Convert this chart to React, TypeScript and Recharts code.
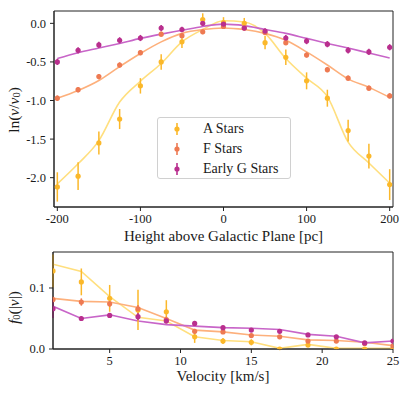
import React from "react";
import {
  ComposedChart,
  Line,
  Scatter,
  ErrorBar,
  XAxis,
  YAxis,
  ReferenceArea,
  Legend,
} from "recharts";

// ---------- Top panel data ----------
const heights = [-200, -175, -150, -125, -100, -75, -50, -25, 0, 25, 50, 75, 100, 125, 150, 175, 200];
const aVals = [-2.12, -1.98, -1.55, -1.24, -0.81, -0.5, -0.24, 0.05, 0.01, 0.0, -0.25, -0.44, -0.745, -0.97, -1.39, -1.72, -2.09];
const aErr = [0.19, 0.18, 0.15, 0.13, 0.1, 0.1, 0.08, 0.08, 0.07, 0.07, 0.087, 0.1, 0.11, 0.11, 0.14, 0.16, 0.2];
const aCurve = [-2.08, -1.82, -1.52, -1.02, -0.75, -0.52, -0.24, -0.08, 0.034, 0.017, -0.13, -0.455, -0.71, -0.95, -1.54, -1.81, -2.07];
const fVals = [-0.97, -0.86, -0.69, -0.54, -0.38, -0.14, -0.16, -0.11, -0.04, -0.06, -0.12, -0.25, -0.41, -0.6, -0.71, -0.84, -0.94];
const fErr = [0.035, 0.035, 0.035, 0.035, 0.035, 0.035, 0.03, 0.03, 0.03, 0.03, 0.03, 0.035, 0.035, 0.035, 0.035, 0.035, 0.035];
const fCurve = [-0.97, -0.87, -0.74, -0.56, -0.39, -0.24, -0.13, -0.08, -0.06, -0.08, -0.13, -0.22, -0.37, -0.54, -0.72, -0.83, -0.96];
const gVals = [-0.5, -0.35, -0.28, -0.22, -0.19, -0.06, -0.08, 0.0, -0.01, -0.06, -0.1, -0.19, -0.23, -0.27, -0.35, -0.37, -0.31];
const gErr = [0.04, 0.04, 0.04, 0.04, 0.04, 0.04, 0.035, 0.035, 0.035, 0.035, 0.035, 0.04, 0.04, 0.04, 0.04, 0.04, 0.04];
const gCurve = [-0.455, -0.38, -0.32, -0.26, -0.195, -0.14, -0.09, -0.04, -0.01, -0.03, -0.08, -0.13, -0.195, -0.26, -0.32, -0.385, -0.45];
const heightTicks = [-200, -100, 0, 100, 200];
const lnTicks = [-2, -1.5, -1, -0.5, 0];

// ---------- Bottom panel data ----------
const velocities = [1, 3, 5, 7, 9, 11, 13, 15, 17, 19, 21, 23, 25];
const aV = [0.128, 0.11, 0.083, 0.064, 0.061, 0.02, 0.013, 0.011, 0.0, 0.0065, 0.0, 0.0, 0.001];
const aVErr = [0.027, 0.022, 0.022, 0.033, 0.019, 0.01, 0.005, 0.005, 0.002, 0.003, 0.001, 0.001, 0.001];
const aVLine = [0.139, 0.127, 0.086, 0.052, 0.046, 0.02, 0.014, 0.012, 0.001, 0.0075, 0.001, 0.001, 0.001];
const fV = [0.081, 0.077, 0.074, 0.066, 0.048, 0.029, 0.028, 0.022, 0.02, 0.013, 0.013, 0.009, 0.005];
const fVErr = [0.005, 0.006, 0.005, 0.006, 0.005, 0.004, 0.003, 0.003, 0.003, 0.003, 0.003, 0.002, 0.002];
const fVLine = [0.083, 0.078, 0.077, 0.068, 0.05, 0.031, 0.028, 0.023, 0.021, 0.015, 0.014, 0.011, 0.0055];
const gV = [0.066, 0.05, 0.055, 0.053, 0.046, 0.042, 0.035, 0.031, 0.029, 0.023, 0.02, 0.01, 0.013];
const gVErr = [0.015, 0.004, 0.004, 0.006, 0.004, 0.004, 0.003, 0.003, 0.003, 0.003, 0.003, 0.002, 0.002];
const gVLine = [0.07, 0.05, 0.056, 0.046, 0.04, 0.0375, 0.035, 0.034, 0.032, 0.024, 0.021, 0.01, 0.013];
const velTicks = [5, 10, 15, 20, 25];
const fTicks = [0, 0.1];

const seriesNames = ["A Stars", "F Stars", "Early G Stars"];

// ---------- styles ----------
const FONT = "'Liberation Serif', 'Times New Roman', serif";
const PT_COLORS = ["#FBB82A", "#EE7A52", "#B92F8E"];
const LINE_COLORS = ["#FFDF7E", "#FDB07C", "#C865C8"];

const topData = heights.map((h, i) => ({
  x: h,
  a: aVals[i], aE: aErr[i], aC: aCurve[i],
  f: fVals[i], fE: fErr[i], fC: fCurve[i],
  g: gVals[i], gE: gErr[i], gC: gCurve[i],
}));

const botData = velocities.map((v, i) => ({
  x: v,
  a: aV[i], aE: aVErr[i], aC: aVLine[i],
  f: fV[i], fE: fVErr[i], fC: fVLine[i],
  g: gV[i], gE: gVErr[i], gC: gVLine[i],
}));

const tickStyle = { fontFamily: FONT, fontSize: 12.5, fill: "#1a1a1a" };

const Dot = (color: string) => (props: any) => {
  const { cx, cy } = props;
  if (cx == null || cy == null) return null;
  return <circle cx={cx} cy={cy} r={2.6} fill={color} />;
};

const LegendBox = () => (
  <div
    style={{
      width: 134,
      height: 62,
      border: "1px solid #d0d0d0",
      borderRadius: 3,
      background: "rgba(255,255,255,0.85)",
      fontFamily: FONT,
      fontSize: 14,
      color: "#1a1a1a",
      boxSizing: "border-box",
      paddingTop: 1,
    }}
  >
    {seriesNames.map((n, i) => (
      <div key={n} style={{ display: "flex", alignItems: "center", height: 20 }}>
        <svg width={40} height={20} style={{ display: "block" }}>
          <line x1={19} x2={19} y1={4} y2={16} stroke={PT_COLORS[i]} strokeWidth={1.6} />
          <circle cx={19} cy={10} r={2.6} fill={PT_COLORS[i]} />
        </svg>
        <span style={{ marginLeft: 5 }}>{n}</span>
      </div>
    ))}
  </div>
);

const TopYLabel = (props: any) => {
  const vb = props.viewBox || { x: 0, y: 0, width: 0, height: 0 };
  const cx = 13;
  const cy = vb.y + vb.height / 2 + 1;
  return (
    <text
      x={cx}
      y={cy}
      transform={`rotate(-90, ${cx}, ${cy})`}
      textAnchor="middle"
      dominantBaseline="central"
      fontFamily={FONT}
      fontSize={15.5}
      fill="#1a1a1a"
    >
      <tspan>ln(</tspan>
      <tspan fontStyle="italic">ν</tspan>
      <tspan>/</tspan>
      <tspan fontStyle="italic">ν</tspan>
      <tspan fontSize={10.5} dy={3}>0</tspan>
      <tspan dy={-3}>)</tspan>
    </text>
  );
};

const BotYLabel = (props: any) => {
  const vb = props.viewBox || { x: 0, y: 0, width: 0, height: 0 };
  const cx = 13;
  const cy = vb.y + vb.height / 2 + 7;
  return (
    <text
      x={cx}
      y={cy}
      transform={`rotate(-90, ${cx}, ${cy})`}
      textAnchor="middle"
      dominantBaseline="central"
      fontFamily={FONT}
      fontSize={15.5}
      fill="#1a1a1a"
    >
      <tspan fontStyle="italic">f</tspan>
      <tspan fontSize={10.5} dy={3}>0</tspan>
      <tspan dy={-3}>(|</tspan>
      <tspan fontStyle="italic">v</tspan>
      <tspan>|)</tspan>
    </text>
  );
};

const XLabel = (text: string, dy: number) => (props: any) => {
  const vb = props.viewBox || { x: 0, y: 0, width: 0, height: 0 };
  return (
    <text
      x={vb.x + vb.width / 2}
      y={vb.y + dy}
      textAnchor="middle"
      fontFamily={FONT}
      fontSize={15}
      fill="#1a1a1a"
    >
      {text}
    </text>
  );
};

const TOP_Y: [number, number] = [-2.38, 0.16];
const TOP_X: [number, number] = [-204, 204];
const BOT_Y: [number, number] = [0, 0.159];
const BOT_X: [number, number] = [1, 25];

export default function App() {
  return (
    <div style={{ position: "absolute", left: 0, top: 0, width: 407, height: 394, background: "#fff" }}>
      <div style={{ position: "absolute", left: 0, top: 0 }}>
        <ComposedChart width={407} height={246} data={topData} margin={{ top: 11, right: 14, left: 0, bottom: 6 }}>
          <XAxis
            type="number"
            dataKey="x"
            domain={TOP_X}
            ticks={heightTicks}
            allowDataOverflow
            tick={tickStyle}
            tickSize={4}
            tickMargin={3}
            height={33}
            stroke="#222"
            label={XLabel("Height above Galactic Plane [pc]", 34)}
          />
          <YAxis
            type="number"
            domain={TOP_Y}
            ticks={lnTicks}
            allowDataOverflow
            tick={tickStyle}
            tickSize={4}
            tickMargin={4}
            width={54}
            stroke="#222"
            tickFormatter={(v: number) => v.toFixed(1)}
            label={TopYLabel}
          />
          <ReferenceArea x1={TOP_X[0]} x2={TOP_X[1]} y1={TOP_Y[0]} y2={TOP_Y[1]} fill="none" stroke="#222" strokeWidth={1} ifOverflow="visible" />
          <Line type="monotone" dataKey="aC" stroke={LINE_COLORS[0]} strokeWidth={1.6} dot={false} isAnimationActive={false} />
          <Line type="monotone" dataKey="fC" stroke={LINE_COLORS[1]} strokeWidth={1.6} dot={false} isAnimationActive={false} />
          <Line type="monotone" dataKey="gC" stroke={LINE_COLORS[2]} strokeWidth={1.6} dot={false} isAnimationActive={false} />
          <Scatter dataKey="a" fill={PT_COLORS[0]} shape={Dot(PT_COLORS[0])} isAnimationActive={false}>
            <ErrorBar dataKey="aE" direction="y" width={0} stroke={PT_COLORS[0]} strokeWidth={1.5} isAnimationActive={false} />
          </Scatter>
          <Scatter dataKey="f" fill={PT_COLORS[1]} shape={Dot(PT_COLORS[1])} isAnimationActive={false}>
            <ErrorBar dataKey="fE" direction="y" width={0} stroke={PT_COLORS[1]} strokeWidth={1.5} isAnimationActive={false} />
          </Scatter>
          <Scatter dataKey="g" fill={PT_COLORS[2]} shape={Dot(PT_COLORS[2])} isAnimationActive={false}>
            <ErrorBar dataKey="gE" direction="y" width={0} stroke={PT_COLORS[2]} strokeWidth={1.5} isAnimationActive={false} />
          </Scatter>
          <Legend
            layout="horizontal"
            verticalAlign="middle"
            align="center"
            content={() => <LegendBox />}
            wrapperStyle={{ left: 157, top: 117, width: 134, height: 62 }}
          />
        </ComposedChart>
      </div>
      <div style={{ position: "absolute", left: 0, top: 246 }}>
        <ComposedChart width={407} height={148} data={botData} margin={{ top: 6, right: 14, left: 0, bottom: 0 }}>
          <XAxis
            type="number"
            dataKey="x"
            domain={BOT_X}
            ticks={velTicks}
            allowDataOverflow
            tick={tickStyle}
            tickSize={4}
            tickMargin={3}
            height={45}
            stroke="#222"
            label={XLabel("Velocity [km/s]", 32)}
          />
          <YAxis
            type="number"
            domain={BOT_Y}
            ticks={fTicks}
            allowDataOverflow
            tick={tickStyle}
            tickSize={4}
            tickMargin={4}
            width={53}
            stroke="#222"
            tickFormatter={(v: number) => v.toFixed(1)}
            label={BotYLabel}
          />
          <ReferenceArea x1={BOT_X[0]} x2={BOT_X[1]} y1={BOT_Y[0]} y2={BOT_Y[1]} fill="none" stroke="#222" strokeWidth={1} ifOverflow="visible" />
          <Line type="linear" dataKey="aC" stroke={LINE_COLORS[0]} strokeWidth={1.6} dot={false} isAnimationActive={false} />
          <Line type="linear" dataKey="fC" stroke={LINE_COLORS[1]} strokeWidth={1.6} dot={false} isAnimationActive={false} />
          <Line type="linear" dataKey="gC" stroke={LINE_COLORS[2]} strokeWidth={1.6} dot={false} isAnimationActive={false} />
          <Scatter dataKey="a" fill={PT_COLORS[0]} shape={Dot(PT_COLORS[0])} isAnimationActive={false}>
            <ErrorBar dataKey="aE" direction="y" width={0} stroke={PT_COLORS[0]} strokeWidth={1.5} isAnimationActive={false} />
          </Scatter>
          <Scatter dataKey="f" fill={PT_COLORS[1]} shape={Dot(PT_COLORS[1])} isAnimationActive={false}>
            <ErrorBar dataKey="fE" direction="y" width={0} stroke={PT_COLORS[1]} strokeWidth={1.5} isAnimationActive={false} />
          </Scatter>
          <Scatter dataKey="g" fill={PT_COLORS[2]} shape={Dot(PT_COLORS[2])} isAnimationActive={false}>
            <ErrorBar dataKey="gE" direction="y" width={0} stroke={PT_COLORS[2]} strokeWidth={1.5} isAnimationActive={false} />
          </Scatter>
        </ComposedChart>
      </div>
    </div>
  );
}
